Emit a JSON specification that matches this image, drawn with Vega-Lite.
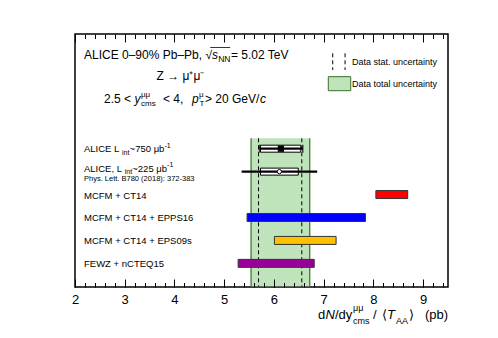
{
  "$schema": "https://vega.github.io/schema/vega-lite/v6.json",
  "width": 373,
  "height": 253,
  "autosize": "none",
  "padding": {"left": 75, "top": 34, "right": 50, "bottom": 51},
  "background": "white",
  "config": {
    "view": {"stroke": "black", "strokeWidth": 1.5},
    "text": {"font": "Liberation Sans", "color": "black", "baseline": "alphabetic", "align": "left"},
    "axis": {"grid": false, "domain": false, "labelFont": "Liberation Sans", "labelFontSize": 13, "labelColor": "black", "tickColor": "black"}
  },
  "data": {"values": [{}]},
  "datasets": {
    "band": [{"total_lo": 5.54, "total_hi": 6.72, "stat_lo": 5.69, "stat_hi": 6.56}],
    "alice": [
      {"measurement": "ALICE 750", "row": 5, "value": 6.14, "stat_lo": 5.71, "stat_hi": 6.58, "syst_lo": 5.73, "syst_hi": 6.54},
      {"measurement": "ALICE 225", "row": 6, "value": 6.11, "stat_lo": 5.35, "stat_hi": 6.87, "syst_lo": 5.73, "syst_hi": 6.49}
    ],
    "models": [
      {"model": "MCFM + CT14", "row": 7, "lo": 8.05, "hi": 8.69},
      {"model": "MCFM + CT14 + EPPS16", "row": 8, "lo": 5.46, "hi": 7.84},
      {"model": "MCFM + CT14 + EPS09s", "row": 9, "lo": 6.01, "hi": 7.25},
      {"model": "FEWZ + nCTEQ15", "row": 10, "lo": 5.28, "hi": 6.81}
    ]
  },
  "resolve": {"axis": {"x": "independent"}},
  "layer": [
    {"data": {"name": "band"}, "mark": {"type": "rect", "color": "#bfe3bb"},
     "encoding": {
       "x": {"field": "total_lo", "type": "quantitative", "scale": {"domain": [2, 9.5], "nice": false, "zero": false, "padding": 0},
             "axis": {"orient": "bottom", "title": null, "values": [2,3,4,5,6,7,8,9], "ticks": false, "labels": true, "labelPadding": 6, "labelFlush": false, "labelOverlap": false, "format": "d", "zindex": 1}},
       "x2": {"field": "total_hi"},
       "y": {"datum": 4.547, "scale": {"domain": [0, 11.03], "reverse": true, "nice": false, "zero": false, "padding": 0}, "axis": null},
       "y2": {"datum": 11.0}
     }},
    {"data": {"name": "band"}, "mark": {"type": "rule", "color": "#3b6e2a", "strokeWidth": 1.2},
     "encoding": {
       "x": {"field": "total_lo", "type": "quantitative", "axis": {"orient": "bottom", "title": null, "values": [2,3,4,5,6,7,8,9], "labels": false, "tickSize": -8, "tickWidth": 1, "zindex": 1}},
       "y": {"datum": 4.547, "axis": null}, "y2": {"datum": 11.0}
     }},
    {"data": {"name": "band"}, "mark": {"type": "rule", "color": "#3b6e2a", "strokeWidth": 1.2},
     "encoding": {
       "x": {"field": "total_hi", "type": "quantitative", "axis": {"orient": "bottom", "title": null, "values": [2,2.2,2.4,2.6,2.8,3,3.2,3.4,3.6,3.8,4,4.2,4.4,4.6,4.8,5,5.2,5.4,5.6,5.8,6,6.2,6.4,6.6,6.8,7,7.2,7.4,7.6,7.8,8,8.2,8.4,8.6,8.8,9,9.2,9.4], "labels": false, "tickSize": -4.5, "tickWidth": 1, "zindex": 1}},
       "y": {"datum": 4.547, "axis": null}, "y2": {"datum": 11.0}
     }},
    {"data": {"name": "band"}, "mark": {"type": "rule", "color": "black", "strokeWidth": 1, "strokeDash": [4, 3]},
     "encoding": {
       "x": {"field": "stat_lo", "type": "quantitative", "axis": {"orient": "top", "title": null, "values": [2,3,4,5,6,7,8,9], "labels": false, "tickSize": -8, "tickWidth": 1, "zindex": 1}},
       "y": {"datum": 4.547, "axis": null}, "y2": {"datum": 11.0}
     }},
    {"data": {"name": "band"}, "mark": {"type": "rule", "color": "black", "strokeWidth": 1, "strokeDash": [4, 3]},
     "encoding": {
       "x": {"field": "stat_hi", "type": "quantitative", "axis": {"orient": "top", "title": null, "values": [2,2.2,2.4,2.6,2.8,3,3.2,3.4,3.6,3.8,4,4.2,4.4,4.6,4.8,5,5.2,5.4,5.6,5.8,6,6.2,6.4,6.6,6.8,7,7.2,7.4,7.6,7.8,8,8.2,8.4,8.6,8.8,9,9.2,9.4], "labels": false, "tickSize": -4.5, "tickWidth": 1, "zindex": 1}},
       "y": {"datum": 4.547, "axis": null}, "y2": {"datum": 11.0}
     }},
    {"data": {"name": "alice"}, "mark": {"type": "bar", "fill": "white", "stroke": "black", "strokeWidth": 1, "size": 7},
     "encoding": {
       "x": {"field": "syst_lo", "type": "quantitative", "axis": null}, "x2": {"field": "syst_hi"},
       "y": {"field": "row", "type": "quantitative", "axis": null}
     }},
    {"data": {"name": "alice"}, "mark": {"type": "rule", "color": "black", "strokeWidth": 2.2},
     "encoding": {
       "x": {"field": "stat_lo", "type": "quantitative", "axis": null}, "x2": {"field": "stat_hi"},
       "y": {"field": "row", "type": "quantitative", "axis": null}
     }},
    {"data": {"name": "alice"}, "transform": [{"filter": "datum.row == 5"}],
     "mark": {"type": "tick", "orient": "vertical", "color": "black", "size": 8, "thickness": 1.5},
     "encoding": {"x": {"field": "stat_lo", "type": "quantitative", "axis": null}, "y": {"field": "row", "type": "quantitative", "axis": null}}},
    {"data": {"name": "alice"}, "transform": [{"filter": "datum.row == 5"}],
     "mark": {"type": "tick", "orient": "vertical", "color": "black", "size": 8, "thickness": 1.5},
     "encoding": {"x": {"field": "stat_hi", "type": "quantitative", "axis": null}, "y": {"field": "row", "type": "quantitative", "axis": null}}},
    {"data": {"name": "alice"}, "transform": [{"filter": "datum.row == 5"}],
     "mark": {"type": "point", "shape": "square", "filled": true, "color": "black", "size": 40, "opacity": 1},
     "encoding": {"x": {"field": "value", "type": "quantitative", "axis": null}, "y": {"field": "row", "type": "quantitative", "axis": null}}},
    {"data": {"name": "alice"}, "transform": [{"filter": "datum.row == 6"}],
     "mark": {"type": "point", "shape": "circle", "filled": true, "fill": "white", "stroke": "black", "strokeWidth": 1, "size": 18, "opacity": 1},
     "encoding": {"x": {"field": "value", "type": "quantitative", "axis": null}, "y": {"field": "row", "type": "quantitative", "axis": null}}},
    {"data": {"name": "models"}, "mark": {"type": "bar", "size": 8, "stroke": "#333333", "strokeWidth": 1},
     "encoding": {
       "x": {"field": "lo", "type": "quantitative", "axis": null}, "x2": {"field": "hi"},
       "y": {"field": "row", "type": "quantitative", "axis": null},
       "color": {"field": "model", "type": "nominal", "legend": null,
                 "scale": {"domain": ["MCFM + CT14", "MCFM + CT14 + EPPS16", "MCFM + CT14 + EPS09s", "FEWZ + nCTEQ15"], "range": ["#ff0000", "#0000ff", "#ffc000", "#990099"]}}
     }},
    {"data": {"name": "models"}, "mark": {"type": "text", "fontSize": 9.5, "baseline": "middle", "dy": 1},
     "encoding": {"x": {"datum": 2.181, "axis": null}, "y": {"field": "row", "type": "quantitative", "axis": null}, "text": {"field": "model"}}},

    {"mark": {"type": "text", "text": "ALICE  L", "fontSize": 9.5}, "encoding": {"x": {"datum": 2.181, "axis": null}, "y": {"datum": 5.161, "axis": null}}},
    {"mark": {"type": "text", "text": "int", "fontSize": 7}, "encoding": {"x": {"datum": 2.945, "axis": null}, "y": {"datum": 5.275, "axis": null}}},
    {"mark": {"type": "text", "text": "~750 μb", "fontSize": 9.5}, "encoding": {"x": {"datum": 3.098, "axis": null}, "y": {"datum": 5.161, "axis": null}}},
    {"mark": {"type": "text", "text": "-1", "fontSize": 7}, "encoding": {"x": {"datum": 3.798, "axis": null}, "y": {"datum": 4.97, "axis": null}}},
    {"mark": {"type": "text", "text": "ALICE,  L", "fontSize": 9.5}, "encoding": {"x": {"datum": 2.181, "axis": null}, "y": {"datum": 6.003, "axis": null}}},
    {"mark": {"type": "text", "text": "int", "fontSize": 7}, "encoding": {"x": {"datum": 2.999, "axis": null}, "y": {"datum": 6.116, "axis": null}}},
    {"mark": {"type": "text", "text": "~225 μb", "fontSize": 9.5}, "encoding": {"x": {"datum": 3.152, "axis": null}, "y": {"datum": 6.003, "axis": null}}},
    {"mark": {"type": "text", "text": "-1", "fontSize": 7}, "encoding": {"x": {"datum": 3.852, "axis": null}, "y": {"datum": 5.811, "axis": null}}},
    {"mark": {"type": "text", "text": "Phys. Lett. B780 (2018): 372-383", "fontSize": 7.5}, "encoding": {"x": {"datum": 2.181, "axis": null}, "y": {"datum": 6.412, "axis": null}}},

    {"mark": {"type": "text", "text": "ALICE 0–90% Pb–Pb, √", "fontSize": 12}, "encoding": {"x": {"datum": 2.181, "axis": null}, "y": {"datum": 1.09, "axis": null}}},
    {"mark": {"type": "text", "text": "s", "fontSize": 12, "fontStyle": "italic"}, "encoding": {"x": {"datum": 4.755, "axis": null}, "y": {"datum": 1.09, "axis": null}}},
    {"mark": {"type": "text", "text": "NN", "fontSize": 8.5}, "encoding": {"x": {"datum": 4.88, "axis": null}, "y": {"datum": 1.221, "axis": null}}},
    {"mark": {"type": "text", "text": "= 5.02 TeV", "fontSize": 12}, "encoding": {"x": {"datum": 5.137, "axis": null}, "y": {"datum": 1.09, "axis": null}}},
    {"mark": {"type": "rule", "color": "black", "strokeWidth": 0.8}, "encoding": {"x": {"datum": 4.72, "axis": null}, "x2": {"datum": 5.12}, "y": {"datum": 0.588, "axis": null}}},
    {"mark": {"type": "text", "text": "Z → μ⁺μ⁻", "fontSize": 12}, "encoding": {"x": {"datum": 3.64, "axis": null}, "y": {"datum": 2.005, "axis": null}}},
    {"mark": {"type": "text", "text": "2.5 < ", "fontSize": 12}, "encoding": {"x": {"datum": 2.583, "axis": null}, "y": {"datum": 3.008, "axis": null}}},
    {"mark": {"type": "text", "text": "y", "fontSize": 12, "fontStyle": "italic"}, "encoding": {"x": {"datum": 3.195, "axis": null}, "y": {"datum": 3.008, "axis": null}}},
    {"mark": {"type": "text", "text": "μμ", "fontSize": 8}, "encoding": {"x": {"datum": 3.327, "axis": null}, "y": {"datum": 2.746, "axis": null}}},
    {"mark": {"type": "text", "text": "cms", "fontSize": 8}, "encoding": {"x": {"datum": 3.327, "axis": null}, "y": {"datum": 3.16, "axis": null}}},
    {"mark": {"type": "text", "text": "< 4,", "fontSize": 12}, "encoding": {"x": {"datum": 3.769, "axis": null}, "y": {"datum": 3.008, "axis": null}}},
    {"mark": {"type": "text", "text": "p", "fontSize": 12, "fontStyle": "italic"}, "encoding": {"x": {"datum": 4.353, "axis": null}, "y": {"datum": 3.008, "axis": null}}},
    {"mark": {"type": "text", "text": "μ", "fontSize": 8}, "encoding": {"x": {"datum": 4.493, "axis": null}, "y": {"datum": 2.746, "axis": null}}},
    {"mark": {"type": "text", "text": "T", "fontSize": 8}, "encoding": {"x": {"datum": 4.503, "axis": null}, "y": {"datum": 3.16, "axis": null}}},
    {"mark": {"type": "text", "text": "> 20 GeV/", "fontSize": 12}, "encoding": {"x": {"datum": 4.614, "axis": null}, "y": {"datum": 3.008, "axis": null}}},
    {"mark": {"type": "text", "text": "c", "fontSize": 12, "fontStyle": "italic"}, "encoding": {"x": {"datum": 5.72, "axis": null}, "y": {"datum": 3.008, "axis": null}}},

    {"mark": {"type": "rule", "color": "black", "strokeWidth": 1, "strokeDash": [4, 3]}, "encoding": {"x": {"datum": 7.182, "axis": null}, "y": {"datum": 0.841, "axis": null}, "y2": {"datum": 1.569}}},
    {"mark": {"type": "rule", "color": "black", "strokeWidth": 1, "strokeDash": [4, 3]}, "encoding": {"x": {"datum": 7.43, "axis": null}, "y": {"datum": 0.841, "axis": null}, "y2": {"datum": 1.569}}},
    {"mark": {"type": "text", "text": "Data stat. uncertainty", "fontSize": 9}, "encoding": {"x": {"datum": 7.57, "axis": null}, "y": {"datum": 1.373, "axis": null}}},
    {"mark": {"type": "rect", "fill": "#bfe3bb", "stroke": "#3b6e2a", "strokeWidth": 1}, "encoding": {"x": {"datum": 7.093, "axis": null}, "x2": {"datum": 7.544}, "y": {"datum": 1.861, "axis": null}, "y2": {"datum": 2.472}}},
    {"mark": {"type": "text", "text": "Data total uncertainty", "fontSize": 9}, "encoding": {"x": {"datum": 7.57, "axis": null}, "y": {"datum": 2.289, "axis": null}}},

    {"mark": {"type": "text", "text": "d", "fontSize": 13}, "encoding": {"x": {"datum": 6.886, "axis": null}, "y": {"datum": 12.424, "axis": null}}},
    {"mark": {"type": "text", "text": "N", "fontSize": 13, "fontStyle": "italic"}, "encoding": {"x": {"datum": 7.037, "axis": null}, "y": {"datum": 12.424, "axis": null}}},
    {"mark": {"type": "text", "text": "/dy", "fontSize": 13}, "encoding": {"x": {"datum": 7.228, "axis": null}, "y": {"datum": 12.424, "axis": null}}},
    {"mark": {"type": "text", "text": "μμ", "fontSize": 9}, "encoding": {"x": {"datum": 7.59, "axis": null}, "y": {"datum": 12.097, "axis": null}}},
    {"mark": {"type": "text", "text": "cms", "fontSize": 9}, "encoding": {"x": {"datum": 7.59, "axis": null}, "y": {"datum": 12.664, "axis": null}}},
    {"mark": {"type": "text", "text": "/", "fontSize": 13}, "encoding": {"x": {"datum": 7.992, "axis": null}, "y": {"datum": 12.424, "axis": null}}},
    {"mark": {"type": "text", "text": "⟨", "fontSize": 13}, "encoding": {"x": {"datum": 8.163, "axis": null}, "y": {"datum": 12.424, "axis": null}}},
    {"mark": {"type": "text", "text": "T", "fontSize": 13, "fontStyle": "italic"}, "encoding": {"x": {"datum": 8.274, "axis": null}, "y": {"datum": 12.424, "axis": null}}},
    {"mark": {"type": "text", "text": "AA", "fontSize": 9}, "encoding": {"x": {"datum": 8.455, "axis": null}, "y": {"datum": 12.664, "axis": null}}},
    {"mark": {"type": "text", "text": "⟩", "fontSize": 13}, "encoding": {"x": {"datum": 8.72, "axis": null}, "y": {"datum": 12.424, "axis": null}}},
    {"mark": {"type": "text", "text": "(pb)", "fontSize": 13, "align": "right"}, "encoding": {"x": {"datum": 9.5, "axis": null}, "y": {"datum": 12.424, "axis": null}}}
  ]
}
